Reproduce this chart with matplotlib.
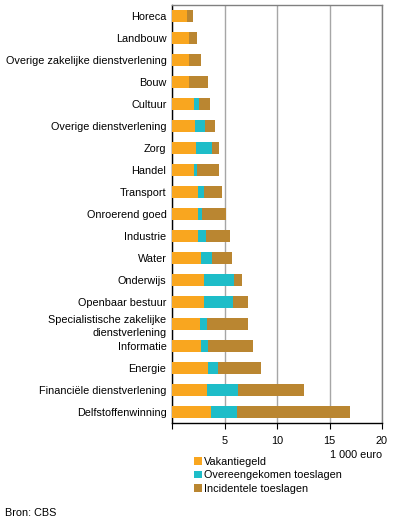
import numpy as np
import matplotlib
matplotlib.use("Agg")
import matplotlib.pyplot as plt

plt.rcParams['font.family'] = ['Liberation Sans', 'DejaVu Sans']

# sectors, top to bottom
sectors = ["Horeca", "Landbouw", "Overige zakelijke dienstverlening", "Bouw",
           "Cultuur", "Overige dienstverlening", "Zorg", "Handel", "Transport",
           "Onroerend goed", "Industrie", "Water", "Onderwijs", "Openbaar bestuur",
           "Specialistische zakelijke\ndienstverlening", "Informatie", "Energie",
           "Financiële dienstverlening", "Delfstoffenwinning"]

# 1 000 euro
vakantiegeld = [1.40, 1.59, 1.59, 1.59, 2.06, 2.16, 2.25, 2.06, 2.44, 2.44,
                2.44, 2.73, 3.02, 3.02, 2.63, 2.73, 3.40, 3.30, 3.68]
overeengekomen = [0.00, 0.06, 0.06, 0.06, 0.51, 0.98, 1.53, 0.32, 0.58, 0.39,
                  0.77, 1.05, 2.85, 2.79, 0.70, 0.67, 0.95, 2.95, 2.51]
incidenteel = [0.57, 0.70, 1.08, 1.75, 1.02, 0.92, 0.66, 2.06, 1.71, 2.28,
               2.28, 1.90, 0.76, 1.40, 3.88, 4.28, 4.09, 6.29, 10.73]

c_vak = "#F9A61F"
c_ovk = "#1EBDC8"
c_inc = "#BA8631"
fs = 7.8

fig = plt.figure(figsize=(3.96, 5.26), dpi=100)
ax = fig.add_axes([172/396, 1 - 423/526, 210/396, 418/526])

y = np.arange(len(sectors))
h = 0.55
left2 = np.array(vakantiegeld) + np.array(overeengekomen)
ax.barh(y, vakantiegeld, h, color=c_vak, label="Vakantiegeld", zorder=3)
ax.barh(y, overeengekomen, h, left=vakantiegeld, color=c_ovk,
        label="Overeengekomen toeslagen", zorder=3)
ax.barh(y, incidenteel, h, left=left2, color=c_inc,
        label="Incidentele toeslagen", zorder=3)

ax.set_ylim(len(sectors) - 0.5, -0.5)
ax.set_xlim(0, 20)
ax.set_yticks(y)
ax.set_yticklabels(sectors, fontsize=fs)
ax.tick_params(axis='y', length=0, pad=4)
ax.set_xticks([0, 5, 10, 15, 20])
ax.set_xticklabels(["", "5", "10", "15", "20"], fontsize=fs)
ax.tick_params(axis='x', direction='out', length=4, width=0.8, pad=5)
for lab in ax.get_yticklabels():
    lab.set_linespacing(1.35)

ax.grid(axis='x', color="#A6A6A6", linewidth=1, zorder=0)
for s in ['left', 'bottom']:
    ax.spines[s].set_color("black")
    ax.spines[s].set_linewidth(1)
for s in ['top', 'right']:
    ax.spines[s].set_color("#808080")
    ax.spines[s].set_linewidth(1)

fig.text(382/396, 1 - 455/526, "1 000 euro", fontsize=fs, ha='right', va='center')

handles, labels = ax.get_legend_handles_labels()
fig.legend(handles, labels, loc='upper left', bbox_to_anchor=(194/396, 1 - 457/526),
           frameon=False, fontsize=fs, handlelength=0.7, handleheight=0.7,
           handletextpad=0.25, labelspacing=0.3, borderaxespad=0, borderpad=0)

fig.text(5/396, 1 - 513/526, "Bron: CBS", fontsize=fs, ha='left', va='center')

fig.savefig("out.png", dpi=100)
